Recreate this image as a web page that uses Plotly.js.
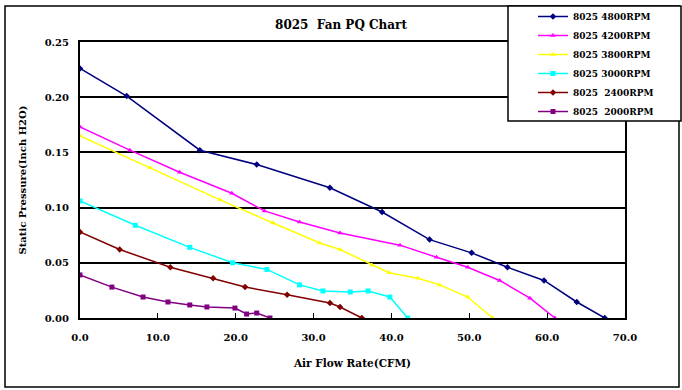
<!DOCTYPE html>
<html><head><meta charset="utf-8">
<script src="https://cdn.plot.ly/plotly-3.0.1.min.js"></script>
<style>body{margin:0;background:#fff}#c{width:682px;height:390px}</style>
</head><body><div id="c"></div>
<script>
const seriesNames = ["8025 4800RPM","8025 4200RPM","8025 3800RPM","8025 3000RPM","8025  2400RPM","8025  2000RPM"];
const colors = ["#000080","#FF00FF","#FFFF00","#00FFFF","#800000","#800080"];
const symbols = ["diamond","triangle-up","triangle-up","square","diamond","square"];

const x1 = [0, 6.0, 15.4, 22.7, 32.1, 38.8, 44.9, 50.3, 54.9, 59.6, 63.8, 67.4];
const y1 = [0.226, 0.201, 0.152, 0.139, 0.118, 0.096, 0.071, 0.059, 0.046, 0.034, 0.0145, 0.0];
const x2 = [0, 6.4, 12.8, 19.5, 23.7, 28.2, 33.4, 41.1, 45.8, 49.8, 53.9, 57.8, 61.0];
const y2 = [0.173, 0.152, 0.132, 0.113, 0.097, 0.087, 0.077, 0.066, 0.055, 0.046, 0.034, 0.018, 0.0];
const x3 = [0, 9.0, 18.0, 24.8, 30.8, 33.4, 37.5, 39.7, 43.4, 46.2, 49.8, 53.0];
const y3 = [0.165, 0.136, 0.107, 0.086, 0.068, 0.062, 0.048, 0.041, 0.036, 0.030, 0.019, 0.0];
const x4 = [0, 7.1, 14.1, 19.6, 24.0, 28.2, 31.2, 34.7, 37.0, 39.8, 42.1];
const y4 = [0.106, 0.084, 0.064, 0.050, 0.044, 0.030, 0.0245, 0.0236, 0.0245, 0.019, 0.0];
const x5 = [0, 5.1, 11.6, 17.1, 21.2, 26.6, 32.1, 33.4, 36.2];
const y5 = [0.078, 0.062, 0.046, 0.036, 0.028, 0.021, 0.0136, 0.010, 0.0];
const x6 = [0, 4.1, 8.1, 11.3, 14.1, 16.3, 19.9, 21.4, 22.7, 24.4];
const y6 = [0.039, 0.028, 0.019, 0.0145, 0.0118, 0.010, 0.009, 0.0036, 0.0045, 0.0];

const xTicks = [0,10,20,30,40,50,60,70];
const xTickText = ["0.0","10.0","20.0","30.0","40.0","50.0","60.0","70.0"];
const yTicks = [0,0.05,0.10,0.15,0.20,0.25];
const yTickText = ["0.00","0.05","0.10","0.15","0.20","0.25"];

const xs=[x1,x2,x3,x4,x5,x6], ys=[y1,y2,y3,y4,y5,y6];
const F = "DejaVu Serif, serif";
const data = xs.map((x,i)=>({
  x:x, y:ys[i], name:seriesNames[i], type:'scatter', mode:'lines+markers',
  line:{color:colors[i], width:1.5},
  marker:{color:colors[i], symbol:symbols[i], size:5}
}));
const W=682,H=390,L=80,R=57,T=42,B=72;
const pw=W-L-R, ph=H-T-B;
const px=(p)=>(p-L)/pw, py=(p)=>(H-B-p)/ph;
const layout = {
  width:W, height:H, margin:{l:L,r:R,t:T,b:B,autoexpand:false},
  paper_bgcolor:'#fff', plot_bgcolor:'#fff',
  font:{family:F, size:10, color:'#000', weight:'bold'},
  title:{text:'<b>8025  Fan PQ Chart</b>', font:{family:F,size:12,color:'#000'}, x:0.5, xanchor:'center', y:1-25/H, yanchor:'middle'},
  xaxis:{range:[0,70], tickvals:xTicks, ticktext:xTickText, showgrid:false, zeroline:false,
    showline:true, mirror:true, linecolor:'#000', linewidth:2, ticks:'inside', ticklen:5, tickcolor:'#000',
    tickfont:{family:F,size:10,weight:'bold'}, ticklabelstandoff:9,
    title:{text:'<b>Air Flow Rate(CFM)</b>', font:{family:F,size:10.5}, standoff:18}},
  yaxis:{range:[0,0.25], tickvals:yTicks, ticktext:yTickText, showgrid:true, gridcolor:'#000', gridwidth:2,
    zeroline:false, showline:true, mirror:true, linecolor:'#000', linewidth:2, ticks:'',
    tickfont:{family:F,size:10,weight:'bold'}, ticklabelstandoff:7,
    title:{text:'<b>Static Pressure(Inch H2O)</b>', font:{family:F,size:10}, standoff:16}},
  showlegend:true,
  legend:{x:px(533), yref:'container', y:1-2/H, xanchor:'left', yanchor:'top', bgcolor:'rgba(0,0,0,0)', borderwidth:0,
    font:{family:F,size:9,weight:'bold'}, tracegroupgap:0, itemwidth:30},
  shapes:[
    {type:'rect', xref:'paper', yref:'paper', x0:px(5), x1:px(679), y0:py(387), y1:py(6), line:{color:'#000',width:1.5}, layer:'below'},
    {type:'rect', xref:'paper', yref:'paper', x0:px(508), x1:px(681), y0:py(121), y1:py(6), line:{color:'#000',width:1.5}, fillcolor:'#fff', layer:'above'}
  ]
};
Plotly.newPlot('c', data, layout, {staticPlot:true});
</script></body></html>
